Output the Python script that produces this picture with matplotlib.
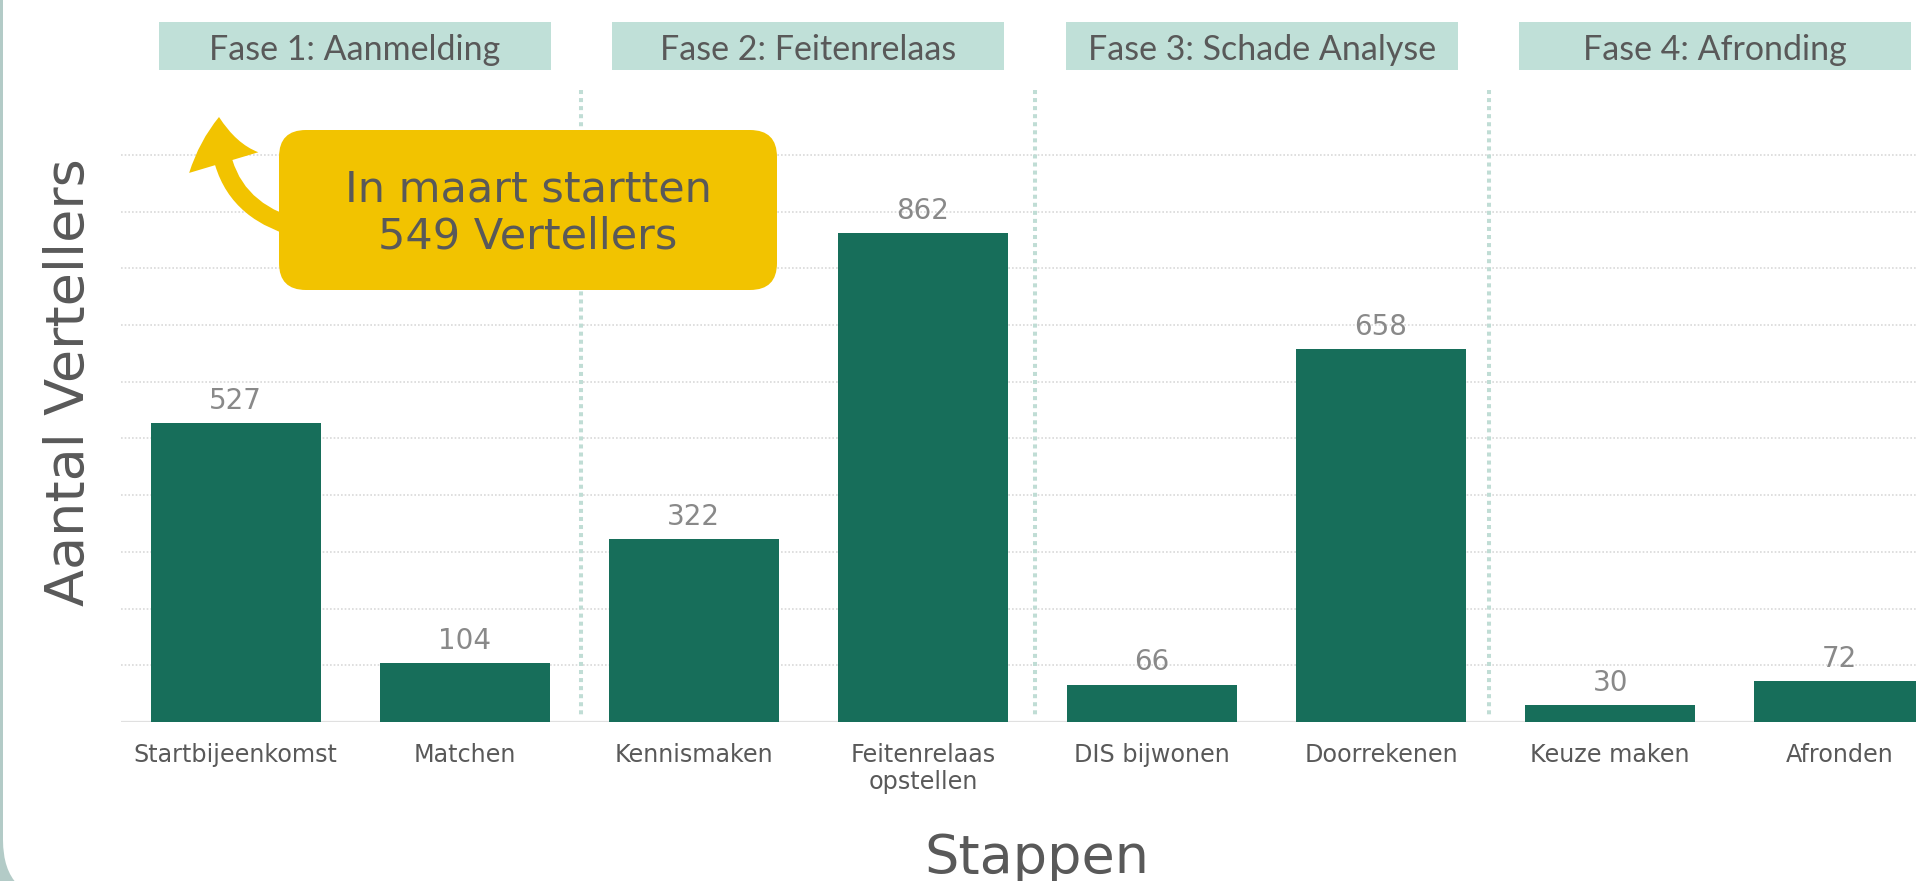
import matplotlib
matplotlib.use("Agg")
import matplotlib.pyplot as plt
from matplotlib.patches import FancyBboxPatch, Rectangle, FancyArrowPatch

# ---------------- data ----------------
categories = ["Startbijeenkomst", "Matchen", "Kennismaken", "Feitenrelaas\nopstellen",
              "DIS bijwonen", "Doorrekenen", "Keuze maken", "Afronden"]
values = [527, 104, 322, 862, 66, 658, 30, 72]
phases = ["Fase 1: Aanmelding", "Fase 2: Feitenrelaas", "Fase 3: Schade Analyse", "Fase 4: Afronding"]
callout_text = "In maart startten\n549 Vertellers"
xlabel = "Stappen"
ylabel = "Aantal Vertellers"

# ---------------- style ----------------
BAR = "#176e5a"
HEAD = "#c0e0d8"
SEP = "#c0ddd5"
YELLOW = "#f2c300"
TXT = "#595959"
VAL = "#898989"
GRID = "#d9d9d9"

W, H, DPI = 1916, 881, 100
fig = plt.figure(figsize=(W / DPI, H / DPI), dpi=DPI)
fig.patch.set_facecolor("#b3cbc7")

# background panel (pixel coordinates, top-down)
bg = fig.add_axes([0, 0, 1, 1], zorder=-10)
bg.set_xlim(0, W); bg.set_ylim(H, 0); bg.axis("off")
bg.add_patch(FancyBboxPatch((3, -200), W + 300, 1100,
                            boxstyle="round,pad=0,rounding_size=60",
                            fc="white", ec="none"))

# main axes
slot = 229.1
left_px, base_px, top_px = 121, 722, 90
ax = fig.add_axes([left_px / W, (H - base_px) / H, (W - left_px) / W, (base_px - top_px) / H], zorder=1)
ax.set_facecolor("none")
ax.set_xlim(-0.5, (W - left_px) / slot - 0.5)
ax.set_ylim(0, 100 * (base_px - top_px) / 56.7)

x = list(range(len(categories)))
bars = ax.bar(x, values, width=0.742, color=BAR, zorder=2)
ax.bar_label(bars, padding=6, fontsize=20, color=VAL)

ax.set_yticks(range(100, 1001, 100))
ax.yaxis.grid(True, color=GRID, linestyle=(0, (1, 1.2)), linewidth=1.2)
ax.set_axisbelow(True)
ax.tick_params(axis="y", left=False, labelleft=False)
for s in ax.spines.values():
    s.set_visible(False)
ax.axhline(0, color="#e0e0e0", lw=1.6, zorder=1)

ax.set_xticks(x)
ax.set_xticklabels(categories, fontsize=17.2, color=TXT, linespacing=1.15)
ax.tick_params(axis="x", length=0, pad=15)

# overlay (pixel coordinates, top-down)
ov = fig.add_axes([0, 0, 1, 1], zorder=5)
ov.set_xlim(0, W); ov.set_ylim(H, 0); ov.axis("off")
ov.patch.set_alpha(0)

# phase separators (dotted) and headers
for i in range(3):
    sx = 581 + i * 454
    ov.plot([sx, sx], [90, 718], color=SEP, lw=2.9, linestyle=(0, (1, 1)), zorder=0.5)

for i, name in enumerate(phases):
    hx = 159 + i * 453.3
    ov.add_patch(Rectangle((hx, 22), 392, 48, fc=HEAD, ec="none"))
    ov.text(hx + 196, 50, name, ha="center", va="center",
            fontsize=24.5, family="Lato", color=TXT)

# callout
arrow = FancyArrowPatch(posA=(305, 230), posB=(219, 117),
                        arrowstyle="simple,head_length=33,head_width=52,tail_width=13",
                        connectionstyle="arc3,rad=-0.42", mutation_scale=1,
                        shrinkA=0, shrinkB=0, fc=YELLOW, ec="none", zorder=2)
ov.add_patch(arrow)
ov.add_patch(FancyBboxPatch((279, 130), 498, 160, boxstyle="round,pad=0,rounding_size=27",
                            fc=YELLOW, ec="none", zorder=3))
ov.text(528, 213, callout_text, ha="center", va="center", fontsize=31, color=TXT,
        linespacing=1.17, zorder=4)

# axis titles
ov.text(1037, 873, xlabel, ha="center", va="baseline", fontsize=39, color=TXT)
ov.text(69, 382, ylabel, ha="center", va="center", rotation=90, fontsize=39, color=TXT)

fig.savefig("out.png", dpi=DPI, facecolor=fig.get_facecolor())
